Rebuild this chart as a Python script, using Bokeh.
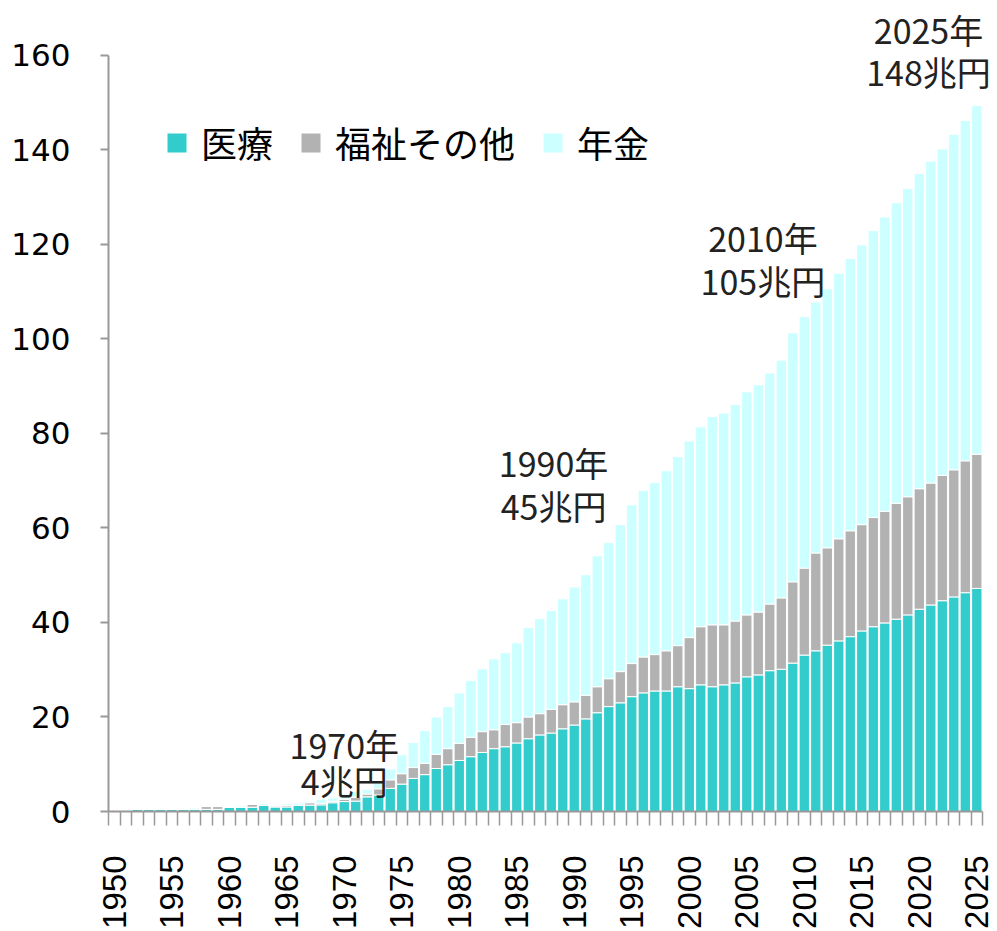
import math
from bokeh.plotting import figure
from bokeh.models import (ColumnDataSource, FixedTicker, NumeralTickFormatter,
                          Legend, LegendItem, Label)
from bokeh.embed import file_html
from bokeh.resources import INLINE

# ---- data (兆円) ----
years = list(range(1950, 2026))

iryo = [0.05, 0.1, 0.5, 0.5, 0.5, 0.5, 0.5, 0.5, 0.45, 0.45,
        0.9, 0.9, 0.9, 1.3, 0.95, 0.95, 1.35, 1.35, 1.4, 1.85,
        2.1, 2.2, 3.1, 3.5, 4.9, 5.8, 7.0, 7.8, 9.1, 9.9,
        10.8, 11.6, 12.5, 13.3, 13.7, 14.5, 15.4, 16.2, 16.6, 17.5,
        18.3, 19.6, 20.9, 22.2, 23.0, 24.3, 25.1, 25.5, 25.5, 26.4,
        26.0, 26.8, 26.4, 26.8, 27.2, 28.5, 28.9, 29.8, 30.1, 31.4,
        33.1, 34.0, 35.2, 36.1, 37.0, 38.2, 39.1, 39.9, 40.7, 41.6,
        42.8, 43.7, 44.6, 45.4, 46.3, 47.2]

fukushi = [0.02, 0.0, 0.0, 0.0, 0.0, 0.0, 0.0, 0.0, 0.6, 0.6,
           0.0, 0.0, 0.6, 0.0, 0.25, 0.3, 0.0, 0.5, 0.3, 0.3,
           0.5, 0.8, 0.6, 1.3, 1.8, 2.2, 2.3, 2.4, 3.0, 3.4,
           3.6, 4.1, 4.4, 4.0, 4.7, 4.3, 4.6, 4.5, 5.0, 5.1,
           4.9, 5.0, 5.5, 5.9, 6.6, 7.0, 7.6, 7.7, 8.5, 8.7,
           10.8, 12.3, 13.1, 12.7, 13.1, 13.1, 13.3, 14.1, 15.1, 17.2,
           18.4, 20.7, 20.6, 21.6, 22.4, 22.5, 23.1, 23.6, 24.5, 25.0,
           25.5, 25.8, 26.5, 26.9, 27.9, 28.4]

nenkin = [0.03, 0.3, 0.0, 0.0, 0.0, 0.0, 0.0, 0.3, 0.0, 0.0,
          0.0, 0.3, 0.0, 0.35, 0.0, 0.35, 0.4, 0.3, 0.9, 0.7,
          0.9, 1.3, 1.0, 1.5, 2.3, 4.0, 5.3, 6.9, 7.9, 8.9,
          10.7, 12.0, 13.3, 15.0, 15.2, 16.9, 18.9, 20.1, 20.9, 22.4,
          24.3, 25.5, 27.7, 28.8, 31.1, 33.6, 35.2, 36.4, 38.1, 40.0,
          41.6, 42.3, 44.1, 44.8, 45.8, 47.2, 48.1, 48.9, 50.3, 52.7,
          53.2, 53.1, 54.8, 56.2, 57.6, 59.2, 60.7, 62.3, 63.6, 65.2,
          66.7, 68.1, 69.1, 71.0, 72.0, 73.8]

series_names = ["医療", "福祉その他", "年金"]
colors = ["#33CCCC", "#B2B2B2", "#CCFFFF"]

y_ticks = [0, 20, 40, 60, 80, 100, 120, 140, 160]
x_label_years = list(range(1950, 2026, 5))

annotations = [("1970年", "4兆円"), ("1990年", "45兆円"),
               ("2010年", "105兆円"), ("2025年", "148兆円")]
# annotation placement (x in years, y for the two lines)
annot_pos = [(1970, 14.2, 6.6), (1988.2, 73.8, 64.7),
             (2006.4, 121.4, 112.3), (2020.8, 165.4, 156.5)]

src = ColumnDataSource(dict(year=years, iryo=iryo, fukushi=fukushi, nenkin=nenkin))

# frame spans the full right side so that the top-right annotation is not clipped;
# the axis itself is bounded to the category span
p = figure(width=997, height=931, output_backend="svg", toolbar_location=None,
           x_range=(1949.5, 2026.8), y_range=(0, 171.6),
           min_border_left=108, min_border_top=0, min_border_right=0,
           min_border_bottom=119)
p.outline_line_color = None
p.xgrid.visible = False
p.ygrid.visible = False
p.background_fill_color = "white"
p.border_fill_color = "white"

rs = p.vbar_stack(["iryo", "fukushi", "nenkin"], x="year", width=0.9,
                  color=colors, line_color="white", line_width=1, source=src)

# x axis
xa = p.xaxis[0]
xa.bounds = (1949.5, 2025.5)
xa.ticker = FixedTicker(ticks=x_label_years,
                        minor_ticks=[y - 0.5 for y in years] + [2025.5])
xa.formatter = NumeralTickFormatter(format="0")
xa.major_tick_out = 0
xa.major_tick_in = 0
xa.minor_tick_out = 14
xa.minor_tick_in = 0
xa.minor_tick_line_color = "#999999"
xa.minor_tick_line_width = 1.5
xa.axis_line_color = "#999999"
xa.axis_line_width = 2
xa.major_label_orientation = math.pi / 2
xa.major_label_text_font = "Liberation Sans"
xa.major_label_text_font_size = "33px"
xa.major_label_text_color = "#000000"
xa.major_label_standoff = 30

# y axis
ya = p.yaxis[0]
ya.ticker = FixedTicker(ticks=y_ticks, minor_ticks=[])
ya.bounds = (0, 160)
ya.major_tick_out = 8
ya.major_tick_in = 0
ya.minor_tick_out = 0
ya.minor_tick_in = 0
ya.major_tick_line_color = "#999999"
ya.major_tick_line_width = 2
ya.axis_line_color = "#999999"
ya.axis_line_width = 2
ya.major_label_text_font = "DejaVu Sans"
ya.major_label_text_font_size = "31px"
ya.major_label_text_color = "#000000"
ya.major_label_standoff = 30

legend = Legend(items=[LegendItem(label=n, renderers=[r]) for n, r in zip(series_names, rs)],
                orientation="horizontal", location=(56, 643),
                glyph_width=25, glyph_height=25, label_standoff=12, spacing=25,
                padding=0, margin=0, border_line_alpha=0, background_fill_alpha=0,
                label_text_font="Noto Sans CJK JP", label_text_font_size="36px",
                label_text_color="#000000")
p.add_layout(legend)

for (t1, t2), (ax, y1, y2) in zip(annotations, annot_pos):
    for t, yy in ((t1, y1), (t2, y2)):
        p.add_layout(Label(x=ax, y=yy, text=t, text_align="center", text_baseline="middle",
                           text_font="Noto Sans CJK JP", text_font_size="34px",
                           text_color="#222222"))

open("out.html", "w").write(file_html(p, INLINE))
